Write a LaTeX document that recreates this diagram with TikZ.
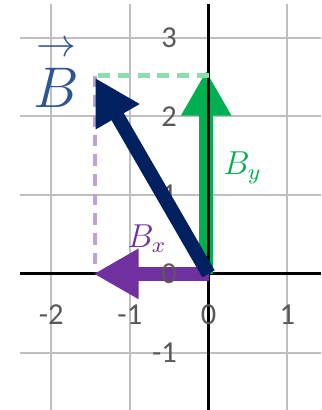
\documentclass[tikz,border=0pt]{standalone}
\usepackage{fontspec}
\setmainfont{Carlito}
\usepackage{amsmath}
\usetikzlibrary{arrows.meta}

\definecolor{navyB}{HTML}{002060}
\definecolor{greenB}{HTML}{00B050}
\definecolor{purpleB}{HTML}{7030A0}
\definecolor{labelB}{HTML}{2F5597}
\definecolor{tickgray}{HTML}{595959}
\definecolor{gridgray}{HTML}{BFBFBF}

\begin{document}
\begin{tikzpicture}[
  gridline/.style={draw=gridgray, line width=0.7pt},
  axis/.style={draw=black, line width=1pt},
  vec/.style={line width=0.18cm, -{Triangle[width=0.6cm,length=0.57cm]}},
  helper/.style={dash pattern=on 0.15cm off 0.1cm, line width=1.5pt},
  tick/.style={text=tickgray, font=\fontsize{11}{13}\selectfont, inner sep=1pt},
]
\useasboundingbox (-2.65,-1.73) rectangle (1.43,3.48);

% grid
\foreach \x in {-2,-1,1}
  \draw[gridline] (\x,-1.73) -- (\x,3.43);
\foreach \y in {-1,1,2,3}
  \draw[gridline] (-2.4,\y) -- (1.43,\y);

\coordinate (O) at (0,0);
\coordinate (Bt) at (-1.44,2.49);
\coordinate (Bxt) at (-1.46,0);
\coordinate (Byo) at (-0.03,0);
\coordinate (Byt) at (-0.03,2.58);
\coordinate (cor) at (-1.44,2.52);
\coordinate (cory) at (0,2.52);

\draw[axis] (-2.4,0) -- (1.43,0);
\draw[vec, greenB] (Byo) -- (Byt);
\draw[axis] (0,-1.73) -- (0,3.43);

% helper lines
\draw[helper, greenB!45] (cory) -- (cor);
\draw[helper, purpleB!45] (cor) -- (-1.44,0.02);

\draw[vec, purpleB] (O) -- (Bxt);

% ticks
\foreach \x in {-2,-1,0,1}
  \node[tick] (tx\x) at (\x,-0.52) {\x};
\foreach \y in {-1,0,1,2,3}
  \node[tick, anchor=east] (ty\y) at (-0.36,\y) {\y};

\draw[vec, navyB] (O) -- (Bt);

\node[text=labelB, font=\fontsize{22}{26}\selectfont, anchor=base, inner sep=0pt] (labB) at (-1.93,2.12) {$\overset{\rightarrow}{B}$};
\node[text=greenB, font=\fontsize{12}{14}\selectfont, anchor=base west, inner sep=0pt] (labBy) at (0.18,1.26) {$B_y$};
\node[text=purpleB, font=\fontsize{12}{14}\selectfont, anchor=base west, inner sep=0pt] (labBx) at (-1.04,0.33) {$B_x$};
\end{tikzpicture}
\end{document}
